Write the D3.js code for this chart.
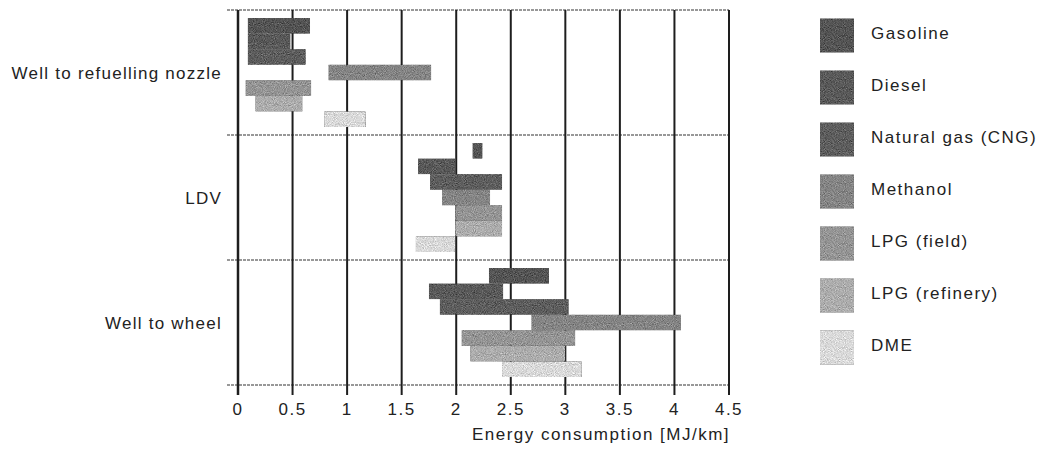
<!DOCTYPE html>
<html>
<head>
<meta charset="utf-8">
<script src="https://cdn.jsdelivr.net/npm/d3@7"></script>
<style>
  html, body { margin: 0; padding: 0; background: #fff; }
  svg { display: block; }
  text { font-family: "Liberation Sans", Arial, Helvetica, sans-serif; fill: #222; }
</style>
</head>
<body>
<svg id="chart" width="1041" height="452"></svg>
<script>
// Pathway stages (rows) and fuels (bars within each row)
const categories = ["Well to refuelling nozzle", "LDV", "Well to wheel"];
const fuels = ["Gasoline", "Diesel", "Natural gas (CNG)", "Methanol", "LPG (field)", "LPG (refinery)", "DME"];

// Energy consumption ranges [low, high] in MJ/km, one pair per stage
const gasoline    = [[0.09, 0.66], [2.15, 2.24], [2.30, 2.85]];
const diesel      = [[0.09, 0.48], [1.65, 1.99], [1.75, 2.43]];
const cng         = [[0.09, 0.62], [1.76, 2.42], [1.85, 3.03]];
const methanol    = [[0.83, 1.77], [1.87, 2.31], [2.69, 4.06]];
const lpgField    = [[0.07, 0.67], [1.99, 2.42], [2.05, 3.09]];
const lpgRefinery = [[0.16, 0.59], [1.99, 2.42], [2.13, 3.00]];
const dme         = [[0.79, 1.17], [1.63, 1.99], [2.42, 3.15]];
const ranges = [gasoline, diesel, cng, methanol, lpgField, lpgRefinery, dme];

const xTicks = [0, 0.5, 1, 1.5, 2, 2.5, 3, 3.5, 4, 4.5];
const xTickLabels = ["0", "0.5", "1", "1.5", "2", "2.5", "3", "3.5", "4", "4.5"];
const fuelColors = ["#555555", "#5a5a5a", "#5e5e5e", "#858585", "#959595", "#adadad", "#dadada"];

const svg = d3.select("#chart");
const margin = { left: 238, top: 10, right: 312, bottom: 67 };
const W = 1041, H = 452;

const x = d3.scaleLinear().domain([0, 4.5]).range([margin.left, W - margin.right]);
const y = d3.scaleBand().domain(categories).range([margin.top, H - margin.bottom]).paddingInner(0).paddingOuter(0);
const yInner = d3.scaleBand().domain(fuels).range([8, y.bandwidth() - 8]).padding(0);

// Grainy print texture for the filled marks
const defs = svg.append("defs");
const grain = defs.append("filter").attr("id", "grain")
  .attr("x", 0).attr("y", 0).attr("width", 1).attr("height", 1)
  .attr("color-interpolation-filters", "sRGB");
grain.append("feTurbulence").attr("type", "fractalNoise").attr("baseFrequency", 1.1)
  .attr("numOctaves", 1).attr("seed", 4).attr("result", "noise");
grain.append("feColorMatrix").attr("in", "noise").attr("type", "matrix")
  .attr("values", "0.33 0.33 0.33 0 0  0.33 0.33 0.33 0 0  0.33 0.33 0.33 0 0  0 0 0 0 1")
  .attr("result", "gray");
grain.append("feComposite").attr("in", "SourceGraphic").attr("in2", "gray").attr("operator", "arithmetic")
  .attr("k1", 0).attr("k2", 1).attr("k3", 0.8).attr("k4", -0.4).attr("result", "mix");
grain.append("feComposite").attr("in", "mix").attr("in2", "SourceGraphic").attr("operator", "in");

const x0 = x(0), x1 = x(4.5);
const yTop = y.range()[0], yBottom = y.range()[1];

// Horizontal separators between stages, the top frame and the baseline
const hLines = [yTop].concat(categories.map(c => y(c) + y.bandwidth()));
svg.append("g").selectAll("line").data(hLines).join("line")
  .attr("x1", x0 - 11).attr("x2", x1)
  .attr("y1", d => d).attr("y2", d => d)
  .attr("stroke", "#777").attr("stroke-width", 1.5).attr("stroke-dasharray", "3,1");

// Vertical gridlines continuing below the baseline as ticks
svg.append("g").selectAll("line").data(xTicks).join("line")
  .attr("x1", d => x(d)).attr("x2", d => x(d))
  .attr("y1", yTop).attr("y2", yBottom + 10)
  .attr("stroke", "#1e1e1e").attr("stroke-width", d => d === 0 ? 2.5 : 2);

// Bars
const rows = svg.append("g");
categories.forEach((cat, ci) => {
  fuels.forEach((fuel, fi) => {
    const r = ranges[fi][ci];
    rows.append("rect")
      .attr("x", x(r[0]))
      .attr("y", y(cat) + yInner(fuel))
      .attr("width", x(r[1]) - x(r[0]))
      .attr("height", yInner.bandwidth())
      .attr("fill", fuelColors[fi])
      .attr("filter", "url(#grain)");
  });
});

// Stage labels
svg.append("g").selectAll("text").data(categories).join("text")
  .attr("x", x0 - 16)
  .attr("y", d => y(d) + y.bandwidth() / 2 + 6)
  .attr("text-anchor", "end")
  .attr("font-size", 17)
  .attr("letter-spacing", 1.25)
  .text(d => d);

// Tick labels
svg.append("g").selectAll("text").data(xTicks).join("text")
  .attr("x", d => x(d))
  .attr("y", yBottom + 30)
  .attr("text-anchor", "middle")
  .attr("font-size", 17)
  .attr("letter-spacing", 1.5)
  .text((d, i) => xTickLabels[i]);

// Axis title
svg.append("text")
  .attr("x", 601).attr("y", yBottom + 55)
  .attr("text-anchor", "middle")
  .attr("font-size", 17)
  .attr("letter-spacing", 1.5)
  .text("Energy consumption [MJ/km]");

// Legend
const legend = svg.append("g").attr("transform", "translate(820,18.5)");
const item = legend.selectAll("g").data(fuels).join("g")
  .attr("transform", (d, i) => `translate(0,${i * 52})`);
item.append("rect")
  .attr("width", 34).attr("height", 34)
  .attr("fill", (d, i) => fuelColors[i])
  .attr("filter", "url(#grain)");
item.append("text")
  .attr("x", 51).attr("y", 20)
  .attr("font-size", 17)
  .attr("letter-spacing", 1.5)
  .text(d => d);
</script>
</body>
</html>
